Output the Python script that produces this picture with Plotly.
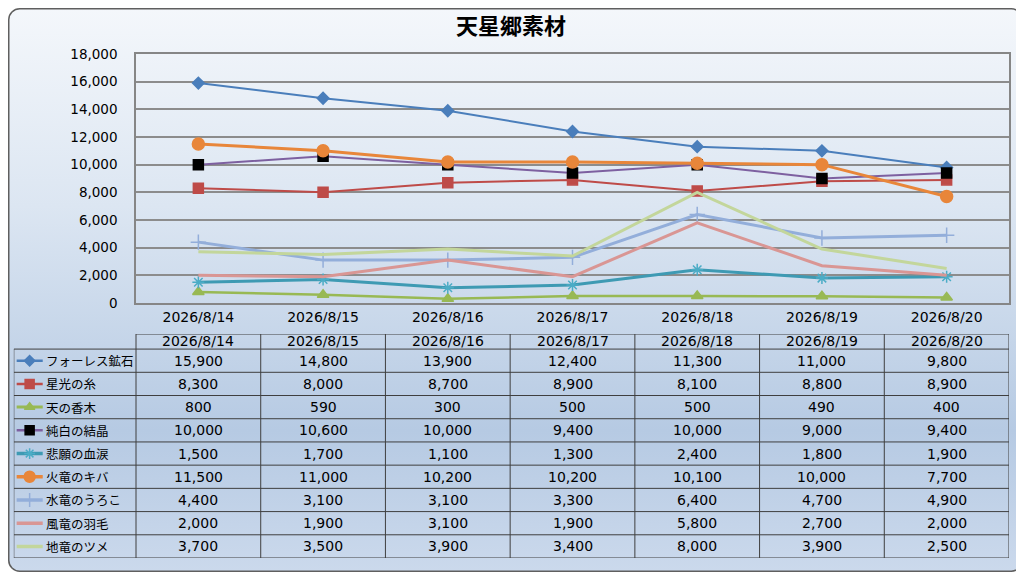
import base64
import plotly.graph_objects as go

# the page puts the figure 8px in from the top-left corner
OFF = 8
W, H = 1024 - OFF, 573 - OFF
FONT = "Noto Sans CJK JP"
NUM_FONT = "DejaVu Sans, Noto Sans CJK JP"

title = "天星郷素材"
dates = ["2026/8/14", "2026/8/15", "2026/8/16", "2026/8/17",
         "2026/8/18", "2026/8/19", "2026/8/20"]

names = ["フォーレス鉱石", "星光の糸", "天の香木", "純白の結晶", "悲願の血涙",
         "火竜のキバ", "水竜のうろこ", "風竜の羽毛", "地竜のツメ"]

foresu = [15900, 14800, 13900, 12400, 11300, 11000, 9800]
seikou = [8300, 8000, 8700, 8900, 8100, 8800, 8900]
ten_kouboku = [800, 590, 300, 500, 500, 490, 400]
junpaku = [10000, 10600, 10000, 9400, 10000, 9000, 9400]
higan = [1500, 1700, 1100, 1300, 2400, 1800, 1900]
karyu = [11500, 11000, 10200, 10200, 10100, 10000, 7700]
suiryu = [4400, 3100, 3100, 3300, 6400, 4700, 4900]
fuuryu = [2000, 1900, 3100, 1900, 5800, 2700, 2000]
chiryu = [3700, 3500, 3900, 3400, 8000, 3900, 2500]
values = [foresu, seikou, ten_kouboku, junpaku, higan, karyu, suiryu, fuuryu, chiryu]

y_ticks = list(range(0, 18001, 2000))

# style per series: line colour, line width, marker symbol, marker colour, marker size
styles = [
    ("#4A7EBB", 2.0, "diamond", "#4A7EBB", 9),
    ("#BE4B48", 2.0, "square", "#BE4B48", 10),
    ("#98B954", 2.5, "triangle-up", "#98B954", 10),
    ("#7D60A0", 2.0, "square", "#000000", 10),
    ("#3E9AB3", 3.0, "asterisk-open", "#4BACC6", 10),
    ("#E8863A", 3.0, "circle", "#E8863A", 12),
    ("#93AEDA", 3.0, "cross-thin-open", "#93AEDA", 11),
    ("#D99694", 3.0, None, None, 0),
    ("#C3D69B", 3.0, None, None, 0),
]

# background: rounded chart area with vertical gradient
svg = f"""<svg xmlns='http://www.w3.org/2000/svg' width='{W}' height='{H}'>
<defs><linearGradient id='g' x1='0' y1='0' x2='0' y2='1'>
<stop offset='0' stop-color='#F4F7FB'/><stop offset='0.35' stop-color='#DCE6F2'/>
<stop offset='0.75' stop-color='#B6CAE3'/><stop offset='1' stop-color='#CBD9EC'/>
</linearGradient></defs>
<rect x='0.75' y='0.75' width='{W - 2.5}' height='{H - 2.5}' rx='11' ry='11' fill='url(#g)' stroke='#5F5F5F' stroke-width='1.5'/>
</svg>"""
bg_src = "data:image/svg+xml;base64," + base64.b64encode(svg.encode()).decode()


def px_x(p):
    return (p - OFF) / W


def px_y(p):
    return 1 - (p - OFF) / H


fig = go.Figure()

# main line chart
for name, vals, (lc, lw, sym, mc, ms) in zip(names, values, styles):
    fig.add_trace(go.Scatter(
        x=dates, y=vals, name=name,
        mode="lines+markers" if sym else "lines",
        line=dict(color=lc, width=lw),
        marker=dict(symbol=sym or "circle", color=mc, size=ms,
                    line=dict(color=mc, width=1.5)),
        xaxis="x", yaxis="y", showlegend=False,
    ))

# table (data table below the chart) on its own axes, column -1 = names
col_left = -1.48
n_rows = len(names)
head_top = -1.15

for i, (name, (lc, lw, sym, mc, ms)) in enumerate(zip(names, styles)):
    fig.add_trace(go.Scatter(
        x=[-1.457, -1.248], y=[i, i], mode="lines",
        line=dict(color=lc, width=lw + 0.5),
        xaxis="x2", yaxis="y2", showlegend=False, hoverinfo="skip",
    ))
    if sym:
        fig.add_trace(go.Scatter(
            x=[-1.353], y=[i], mode="markers",
            marker=dict(symbol=sym, color=mc, size=ms - 1,
                        line=dict(color=mc, width=1.5)),
            xaxis="x2", yaxis="y2", showlegend=False, hoverinfo="skip",
        ))

shapes = []
grid = dict(color="#3F3F3F", width=1)
# header top line and row separators
shapes.append(dict(type="line", xref="x2", yref="y2", x0=-0.5, x1=6.5,
                   y0=head_top, y1=head_top, line=grid))
for r in range(n_rows + 1):
    shapes.append(dict(type="line", xref="x2", yref="y2", x0=col_left, x1=6.5,
                       y0=r - 0.5, y1=r - 0.5, line=grid))
shapes.append(dict(type="line", xref="x2", yref="y2", x0=col_left, x1=col_left,
                   y0=-0.5, y1=n_rows - 0.5, line=grid))
for c in range(len(dates) + 1):
    shapes.append(dict(type="line", xref="x2", yref="y2", x0=c - 0.5, x1=c - 0.5,
                       y0=head_top, y1=n_rows - 0.5, line=grid))

annotations = [dict(text=f"<b>{title}</b>", x=px_x(511), y=px_y(24), xref="paper", yref="paper",
                    yanchor="middle", showarrow=False,
                    font=dict(family=FONT, size=22, color="#000000"))]
num_font = dict(family=NUM_FONT, size=14, color="#000000")
name_font = dict(family=FONT, size=12.5, color="#000000")
for c, d in enumerate(dates):
    annotations.append(dict(text=d, x=c, y=(head_top - 0.5) / 2 - 0.02, xref="x2", yref="y2",
                            yanchor="middle", showarrow=False, font=num_font))
for r, (name, vals) in enumerate(zip(names, values)):
    annotations.append(dict(text=name, x=-1.238, y=r, xref="x2", yref="y2",
                            xanchor="left", yanchor="middle", showarrow=False, font=name_font))
    for c, v in enumerate(vals):
        annotations.append(dict(text=f"{v:,}", x=c, y=r, xref="x2", yref="y2",
                                yanchor="middle", showarrow=False, font=num_font))

fig.update_layout(
    width=W, height=H,
    margin=dict(l=0, r=0, t=0, b=0, pad=0, autoexpand=False),
    paper_bgcolor="rgba(0,0,0,0)",
    plot_bgcolor="#FFFFFF",
    font=dict(family=NUM_FONT, size=14, color="#000000"),
    images=[dict(source=bg_src, xref="paper", yref="paper", x=0, y=1,
                 sizex=1, sizey=1, sizing="stretch", layer="below")],
    xaxis=dict(domain=[px_x(136), px_x(1009)], type="category", range=[-0.5, 6.5],
               showgrid=False, showline=True, linecolor="#868686", linewidth=1.5,
               mirror=True, ticks="", tickfont=dict(size=14), fixedrange=True,
               automargin=False),
    yaxis=dict(domain=[px_y(303), px_y(54)], range=[0, 18000], tickvals=y_ticks,
               tickformat=",d", showgrid=True, gridcolor="#8C8C8C", gridwidth=1.5,
               showline=True, linecolor="#868686", linewidth=1.5, mirror=True,
               zeroline=False, ticks="", ticklabelstandoff=14,
               tickfont=dict(size=13.5), fixedrange=True, automargin=False),
    xaxis2=dict(domain=[px_x(136 + 124.7 * (col_left + 0.5)), px_x(1009)],
                range=[col_left, 6.5], visible=False, anchor="y2", fixedrange=True,
                automargin=False),
    yaxis2=dict(domain=[px_y(558), px_y(334)], range=[n_rows - 0.5, head_top],
                visible=False, anchor="x2", fixedrange=True, automargin=False),
    shapes=shapes,
    annotations=annotations,
)

fig.write_html("out.html")
